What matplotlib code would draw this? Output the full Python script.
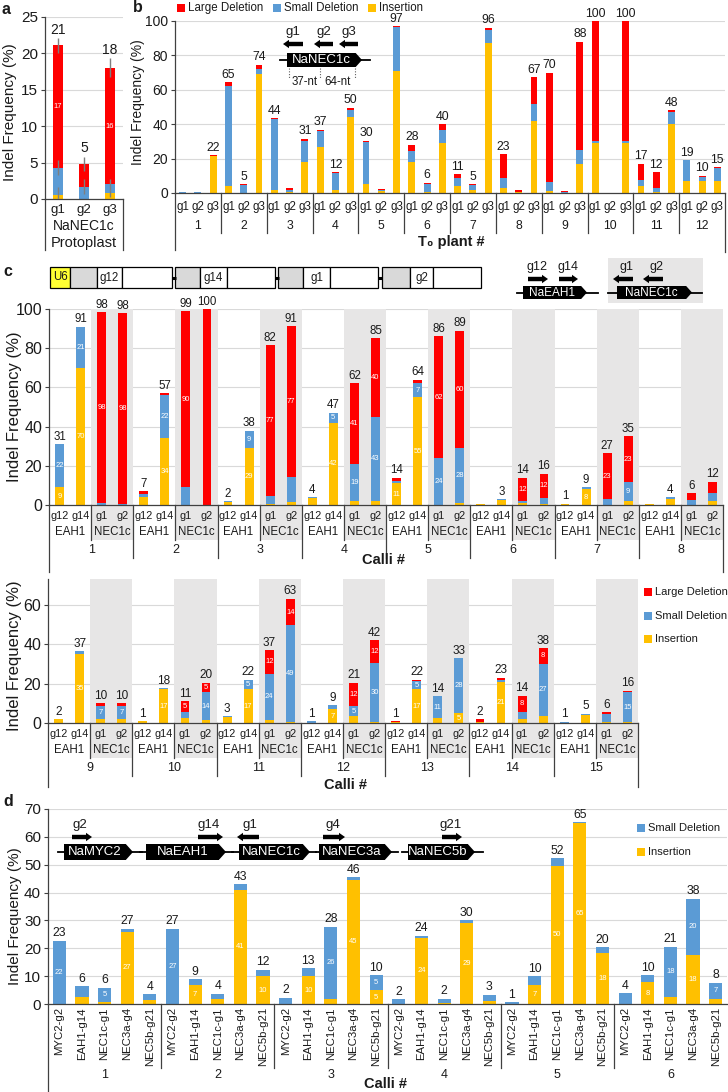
import matplotlib
matplotlib.use('Agg')
import matplotlib.pyplot as plt
import numpy as np
from matplotlib.patches import Polygon, Rectangle

W, H = 728, 1092
plt.rcParams['font.family'] = ['Liberation Sans', 'DejaVu Sans']

RED = '#ff0000'; BLUE = '#5b9bd5'; YEL = '#ffc000'
SHADE = '#e7e6e6'; GRID = '#d9d9d9'; AXC = '#404040'; TXT = '#1a1a1a'

# ---------------- panel a data ----------------
a_guides = ['g1', 'g2', 'g3']
a_ins = [0.5, 0.0, 0.8]
a_sml = [3.8, 1.7, 1.2]
a_lrg = [16.8, 3.1, 16.0]
a_err_ins = [1.2, 0.0, 0.5]
a_err_sml = [1.0, 1.0, 0.8]
a_err_lrg = [1.0, 1.0, 1.3]
a_top = ['21', '5', '18']
a_lrg_lbl = ['17', '', '16']

# ---------------- panel b data ----------------
b_guides = ['g1', 'g2', 'g3']
b_plants = [str(i) for i in range(1, 13)]
b_ins = [0.2, 0.2, 21.5, 4, 0, 69, 1.5, 0.5, 18, 27, 2, 44, 5.5, 1, 71, 18, 0.5, 29,
         4, 1.5, 87, 3, 0.3, 42, 1, 0.2, 17, 29, 0, 29, 4, 0.5, 40, 7, 7, 7]
b_sml = [0.1, 0.5, 0.3, 58, 4.5, 3, 41.5, 1.5, 12, 9, 9.5, 4.5, 24, 0.5, 25.5, 6.5, 4.5, 7.5,
         4.5, 3.3, 7.5, 5.5, 0.2, 9.5, 5.5, 0.3, 8, 1.5, 0, 1, 3.5, 2.5, 7, 12, 2.5, 7.5]
b_lrg = [0, 0, 0.2, 2.5, 0.5, 2.5, 0.5, 1, 1.5, 0.8, 0.5, 1.2, 0.8, 1, 0.5, 3.5, 1, 3.5,
         2.5, 0.2, 1.5, 14, 1.2, 16, 63.5, 0.5, 63, 69.5, 0, 70, 9.5, 9, 1, 0, 0.5, 0.5]
b_top = ['', '', '22', '65', '5', '74', '44', '', '31', '37', '12', '50', '30', '', '97',
         '28', '6', '40', '11', '5', '96', '23', '', '67', '70', '', '88', '100', '', '100',
         '17', '12', '48', '19', '10', '15']

# ---------------- panel c data ----------------
c_guides = ['g12', 'g14', 'g1', 'g2']
c_genes = ['EAH1', 'NEC1c']
c1_calli = [str(i) for i in range(1, 9)]
c2_calli = [str(i) for i in range(9, 16)]

c1_ins = [9, 70, 0, 0, 4.3, 34, 0, 0, 1.5, 29, 0.5, 1.4, 3.5, 42, 2, 2,
          11, 55, 0, 1, 0.5, 2.5, 1, 0.5, 0.3, 8, 0, 2, 0.3, 3, 0, 2]
c1_sml = [22, 21, 0.8, 0.3, 1.3, 22, 9, 0, 0.5, 9, 4, 12.7, 0.5, 5, 19, 43,
          1, 7, 24, 28, 0, 0.5, 1, 3, 0.3, 1, 3, 9.5, 0, 1, 2.7, 4.3]
c1_lrg = [0, 0, 97.5, 97.7, 1.5, 1, 90, 100, 0, 0, 77, 77, 0, 0, 41, 40,
          2, 2, 62, 60, 0, 0, 12, 12.5, 0, 0, 23.5, 23.5, 0, 0, 3.3, 5.5]
c1_top = ['31', '91', '98', '98', '7', '57', '99', '100', '2', '38', '82', '91',
          '4', '47', '62', '85', '14', '64', '86', '89', '', '3', '14', '16',
          '1', '9', '27', '35', '', '4', '6', '12']
c1_ins_lbl = ['9', '70', '', '', '', '34', '', '', '', '29', '', '', '', '42', '', '',
              '11', '55', '', '', '', '', '', '', '', '8', '', '', '', '', '', '']
c1_sml_lbl = ['22', '21', '', '', '', '22', '', '', '', '9', '', '', '', '5', '19', '43',
              '', '7', '24', '28', '', '', '', '', '', '', '', '9', '', '', '', '']
c1_lrg_lbl = ['', '', '98', '98', '', '', '90', '', '', '', '77', '77', '', '', '41', '40',
              '', '', '62', '60', '', '', '12', '12', '', '', '23', '23', '', '', '', '']

c2_ins = [2, 35, 2, 2, 1, 17, 2.5, 1.5, 3, 17, 1.5, 0.5, 0, 7, 3.5, 0.5,
          0.4, 17, 2.5, 5, 0.3, 21, 2, 3.5, 0.2, 4, 0.5, 0.5]
c2_sml = [0, 1.5, 6.5, 6.5, 0, 0.5, 3, 14, 0.3, 5, 23.5, 49, 0.8, 2, 5, 30,
          0, 4.5, 11, 28, 0, 1, 3.5, 26.5, 0.5, 0.8, 4.3, 15]
c2_lrg = [0, 0, 1.5, 1.5, 0, 0, 5.5, 5, 0, 0, 12, 13.5, 0, 0, 12, 11.5,
          0.6, 0.5, 0, 0, 1.5, 1, 8.3, 8, 0, 0, 0.8, 0.8]
c2_top = ['2', '37', '10', '10', '1', '18', '11', '20', '3', '22', '37', '63',
          '1', '9', '21', '42', '1', '22', '14', '33', '2', '23', '14', '38', '1', '5', '6', '16']
c2_ins_lbl = ['', '35', '', '', '', '17', '', '', '', '17', '', '', '', '7', '', '',
              '', '17', '', '5', '', '21', '', '', '', '', '', '']
c2_sml_lbl = ['', '', '7', '7', '', '', '', '14', '', '5', '24', '49', '', '', '5', '30',
              '', '5', '11', '28', '', '', '', '27', '', '', '', '15']
c2_lrg_lbl = ['', '', '', '', '', '', '5', '5', '', '', '12', '14', '', '', '12', '12',
              '', '', '', '', '', '', '8', '8', '', '', '', '']

# ---------------- panel d data ----------------
d_targets = ['MYC2-g2', 'EAH1-g14', 'NEC1c-g1', 'NEC3a-g4', 'NEC5b-g21']
d_calli = [str(i) for i in range(1, 7)]
d_ins = [0, 2.5, 0.8, 26, 1.5, 0, 7, 1.7, 41, 10, 0, 10, 1.8, 44.6, 5,
         0, 23.8, 0.5, 29, 1.2, 0, 7, 49.6, 64.8, 18.3, 0, 7.8, 2.6, 17.6, 1.8]
d_sml = [22.7, 4, 5, 1, 2, 27, 2, 2, 2, 2.3, 2.3, 2.8, 26, 1, 5.4,
         1.7, 0.7, 1.4, 1, 2.2, 0.6, 3, 2.8, 0.4, 2, 3.8, 2.6, 18, 20.2, 5.9]
d_top = ['23', '6', '6', '27', '4', '27', '9', '4', '43', '12', '2', '13', '28', '46', '10',
         '2', '24', '2', '30', '3', '1', '10', '52', '65', '20', '4', '10', '21', '38', '8']
d_ins_lbl = ['', '', '', '27', '', '', '7', '', '41', '10', '', '10', '', '45', '5',
             '', '24', '', '29', '', '', '7', '50', '65', '18', '', '8', '', '18', '']
d_sml_lbl = ['22', '', '5', '', '', '27', '', '', '', '', '', '', '26', '', '5',
             '', '', '', '', '', '', '', '', '', '', '', '', '18', '20', '7']

fig = plt.figure(figsize=(W / 100, H / 100), dpi=100)


def add_ax(l, t, r, b):
    ax = fig.add_axes([l / W, 1 - b / H, (r - l) / W, (b - t) / H])
    return ax, (b - t)


def style(ax, ymax, ystep, fs):
    ax.set_ylim(0, ymax)
    ax.set_yticks(np.arange(0, ymax + 0.01, ystep))
    ax.set_xticks([])
    for s in ['top', 'right']:
        ax.spines[s].set_visible(False)
    for s in ['left', 'bottom']:
        ax.spines[s].set_color(AXC)
        ax.spines[s].set_linewidth(0.9)
    ax.grid(axis='y', color=GRID, lw=0.8)
    ax.set_axisbelow(True)
    ax.tick_params(axis='y', labelsize=fs, length=3, width=0.8, color=AXC, pad=2, labelcolor=TXT)


def stack(ax, x, w, segs, colors, lbls_list, fs_in=5.5):
    bottom = np.zeros(len(x))
    for vals, col, lbls in zip(segs, colors, lbls_list):
        vals = np.asarray(vals, float)
        ax.bar(x, vals, w, bottom=bottom, color=col, lw=0, zorder=2)
        if lbls is not None:
            for xi, b, v, s in zip(x, bottom, vals, lbls):
                if s:
                    ax.text(xi, b + v / 2, s, ha='center', va='center', color='white',
                            fontsize=fs_in, zorder=3)
        bottom = bottom + vals
    return bottom


def top_labels(ax, x, tops, lbls, fs):
    for xi, t, s in zip(x, tops, lbls):
        if s:
            ax.annotate(s, (xi, t), xytext=(0, 1), textcoords='offset points',
                        ha='center', va='bottom', fontsize=fs, color=TXT, zorder=5)


def btext(ax, axh, x, px, s, **kw):
    ax.text(x, -px / axh, s, transform=ax.get_xaxis_transform(), ha='center', va='center',
            clip_on=False, color=TXT, **kw)


def bline(ax, axh, x, px0, px1):
    ax.plot([x, x], [-px0 / axh, -px1 / axh], transform=ax.get_xaxis_transform(),
            clip_on=False, color=AXC, lw=0.9)


def ylab(ax, fs, xfrac, yfrac):
    ax.set_ylabel('Indel Frequency (%)', fontsize=fs, va='center', color=TXT)
    ax.yaxis.set_label_coords(xfrac, yfrac)


# ================= panel a =================
axa, ha = add_ax(45, 17, 123, 199)
style(axa, 25, 5, 11)
axa.set_xlim(0, 3)
xa = np.arange(3) + 0.5
stack(axa, xa, 0.42, [a_ins, a_sml, a_lrg], [YEL, BLUE, RED], [None, None, a_lrg_lbl])
ci = np.array(a_ins, float)
cs = ci + np.array(a_sml)
cl = cs + np.array(a_lrg)
for cum, err in [(ci, a_err_ins), (cs, a_err_sml), (cl, a_err_lrg)]:
    axa.errorbar(xa, cum, yerr=err, fmt='none', ecolor='#7f7f7f', elinewidth=1.0, zorder=4)
top_labels(axa, xa, cl + np.array(a_err_lrg), a_top, 10)
for xi, g in zip(xa, a_guides):
    btext(axa, ha, xi, 11, g, fontsize=9.5)
btext(axa, ha, 1.5, 27, 'NaNEC1c', fontsize=10)
btext(axa, ha, 1.5, 44, 'Protoplast', fontsize=10.5)
bline(axa, ha, 0, 0, 51)
bline(axa, ha, 3, 0, 51)
ylab(axa, 11, (10 - 45) / 78, 0.48)

# ================= panel b =================
axb, hb = add_ax(175, 21, 725, 193)
style(axb, 100, 20, 10)
axb.set_xlim(0, 36)
xb = np.arange(36) + 0.5
tb = stack(axb, xb, 0.45, [b_ins, b_sml, b_lrg], [YEL, BLUE, RED], [None, None, None])
top_labels(axb, xb, tb, b_top, 8.8)
for i, p in enumerate(b_plants):
    for j, g in enumerate(b_guides):
        btext(axb, hb, 3 * i + j + 0.5, 14, g, fontsize=8.3)
    btext(axb, hb, 3 * i + 1.5, 33, p, fontsize=8.8)
    if i > 0:
        bline(axb, hb, 3 * i, 0, 40)
bline(axb, hb, 0, 0, 57)
bline(axb, hb, 36, 0, 59)
ylab(axb, 10, (138 - 175) / 550, 0.53)

# ================= panel c =================
def panel_c(l, t, r, b, ymax, ins, sml, lrg, tops, il, sl, ll, calli, fs_top, ext):
    ax, h = add_ax(l, t, r, b)
    style(ax, ymax, 20, 11.5)
    n = len(calli)
    ax.set_xlim(0, 4 * n)
    x = np.arange(4 * n) + 0.5
    for k in range(n):
        ax.add_patch(Rectangle((4 * k + 2, -35 / h), 2, 1 + 35 / h, transform=ax.get_xaxis_transform(),
                               fc=SHADE, ec='none', lw=0, zorder=0.6, clip_on=False))
    tt = stack(ax, x, 0.42, [ins, sml, lrg], [YEL, BLUE, RED], [il, sl, ll])
    top_labels(ax, x, tt, tops, fs_top)
    for k, c in enumerate(calli):
        for j, g in enumerate(c_guides):
            btext(ax, h, 4 * k + j + 0.5, 11, g, fontsize=7.8)
        btext(ax, h, 4 * k + 1, 27, c_genes[0], fontsize=8.3)
        btext(ax, h, 4 * k + 3, 27, c_genes[1], fontsize=8.3)
        btext(ax, h, 4 * k + 2, 45, c, fontsize=9)
        bline(ax, h, 4 * k + 2, 0, 35)
        if k > 0:
            bline(ax, h, 4 * k, 0, 53)
    bline(ax, h, 0, 0, ext)
    bline(ax, h, 4 * n, 0, ext)
    return ax, h

axc1, hc1 = panel_c(49, 309, 723, 505, 100, c1_ins, c1_sml, c1_lrg, c1_top,
                    c1_ins_lbl, c1_sml_lbl, c1_lrg_lbl, c1_calli, 8.3, 67)
ylab(axc1, 12, (15 - 49) / 674, 0.5)
axc2, hc2 = panel_c(48, 579, 638, 723, 73, c2_ins, c2_sml, c2_lrg, c2_top,
                    c2_ins_lbl, c2_sml_lbl, c2_lrg_lbl, c2_calli, 8.5, 64)
ylab(axc2, 12, (15 - 48) / 590, 0.47)

# ================= panel d =================
axd, hd = add_ax(48, 809, 727, 1004)
style(axd, 70, 10, 11)
axd.set_xlim(0, 30)
xd = np.arange(30) + 0.5
td = stack(axd, xd, 0.58, [d_ins, d_sml], [YEL, BLUE], [d_ins_lbl, d_sml_lbl])
top_labels(axd, xd, td, d_top, 8.8)
for k, c in enumerate(d_calli):
    for j, g in enumerate(d_targets):
        axd.text(5 * k + j + 0.5, -3 / hd, g, transform=axd.get_xaxis_transform(), rotation=90,
                 ha='center', va='top', fontsize=8.2, color=TXT, clip_on=False)
    btext(axd, hd, 5 * k + 2.5, 71, c, fontsize=9)
    if k > 0:
        bline(axd, hd, 5 * k, 0, 64)
bline(axd, hd, 0, 0, 88)
ylab(axd, 11, (15 - 48) / 679, 0.45)

# ================= overlay: legends, diagrams, panel letters =================
ov = fig.add_axes([0, 0, 1, 1])
ov.set_xlim(0, W)
ov.set_ylim(H, 0)
ov.axis('off')
ov.patch.set_alpha(0)


def ovtext(x, y, s, **kw):
    kw.setdefault('color', TXT)
    ov.text(x, y, s, ha=kw.pop('ha', 'center'), va=kw.pop('va', 'center'), **kw)


def gene(x0, x1, y0, y1, name, fs, lx0, lx1):
    ym = (y0 + y1) / 2
    ov.plot([lx0, lx1], [ym, ym], color='black', lw=1.3, zorder=1)
    p = (y1 - y0) * 0.45
    ov.add_patch(Polygon([(x0, y0), (x1 - p, y0), (x1, ym), (x1 - p, y1), (x0, y1)],
                         closed=True, fc='black', ec='none', zorder=2))
    ov.text((x0 + x1 - p) / 2, ym, name, color='white', ha='center', va='center',
            fontsize=fs, zorder=3)


def arrow(x0, x1, y, right=True, sh=2.2, hh=4.2, hl=6):
    if right:
        pts = [(x0, y - sh), (x1 - hl, y - sh), (x1 - hl, y - hh), (x1, y),
               (x1 - hl, y + hh), (x1 - hl, y + sh), (x0, y + sh)]
    else:
        pts = [(x1, y - sh), (x0 + hl, y - sh), (x0 + hl, y - hh), (x0, y),
               (x0 + hl, y + hh), (x0 + hl, y + sh), (x1, y + sh)]
    ov.add_patch(Polygon(pts, closed=True, fc='black', ec='none', zorder=3))


def legend_item(x, y, col, s, fs=8.3):
    ov.add_patch(Rectangle((x, y - 4), 8, 8, fc=col, ec='none'))
    ov.text(x + 11, y, s, ha='left', va='center', fontsize=fs, color=TXT)


# panel letters
for lx, ly, s in [(2, 10, 'a'), (133, 8, 'b'), (3, 271, 'c'), (3, 802, 'd')]:
    ovtext(lx, ly, s, fontsize=11.5, fontweight='bold', ha='left')

# legend b
legend_item(177, 8, RED, 'Large Deletion')
legend_item(273, 8, BLUE, 'Small Deletion')
legend_item(368, 8, YEL, 'Insertion')

# diagram b
gene(287, 362, 53, 67, 'NaNEC1c', 9.5, 280, 370)
for (x0, x1, lx, s) in [(283, 303, 293, 'g1'), (314, 333, 324, 'g2'), (339, 358, 349, 'g3')]:
    arrow(x0, x1, 44, right=False)
    ovtext(lx, 32, s, fontsize=9.5)
for xx in [289, 320, 355]:
    ov.plot([xx, xx], [68, 78], color='#606060', lw=0.8, ls=(0, (1, 1.5)))
ovtext(305, 82, '37-nt', fontsize=8.3)
ovtext(338, 82, '64-nt', fontsize=8.3)

# x titles
ovtext(451, 242, 'T\u2080 plant #', fontsize=10.5, fontweight='bold')
ovtext(383, 560, 'Calli #', fontsize=10.5, fontweight='bold')
ovtext(345, 785, 'Calli #', fontsize=10.5, fontweight='bold')
ovtext(386, 1084, 'Calli #', fontsize=10.5, fontweight='bold')

# construct diagram c
by0, by1 = 267, 288
ov.add_patch(Rectangle((50, by0), 20, by1 - by0, fc='#ffff33', ec='black', lw=0.9))
ovtext(60, (by0 + by1) / 2, 'U6', fontsize=8.3)
units = [(70, 97, 122, 172, 'g12'), (175, 200, 227, 275, 'g14'),
         (278, 303, 330, 378, 'g1'), (382, 410, 433, 481, 'g2')]
for (g0, g1, g2, g3, s) in units:
    ov.add_patch(Rectangle((g0, by0), g1 - g0, by1 - by0, fc='#d9d9d9', ec='black', lw=0.9))
    ov.add_patch(Rectangle((g1, by0), g2 - g1, by1 - by0, fc='white', ec='black', lw=0.9))
    ov.add_patch(Rectangle((g2, by0), g3 - g2, by1 - by0, fc='white', ec='black', lw=0.9))
    ovtext((g1 + g2) / 2, (by0 + by1) / 2, s, fontsize=8.3)
for xx in [172, 275, 378]:
    ov.plot([xx, xx + 4], [(by0 + by1) / 2] * 2, color='black', lw=2.2, solid_capstyle='butt')

ov.add_patch(Rectangle((608, 258), 95, 45, fc=SHADE, ec='none', zorder=0))
gene(523, 587, 286, 299, 'NaEAH1', 8.5, 517, 598)
gene(617, 692, 286, 299, 'NaNEC1c', 8.5, 608, 702)
arrow(528, 548, 279, right=True)
arrow(559, 578, 279, right=True)
arrow(613, 633, 279, right=False)
arrow(643, 663, 279, right=False)
ovtext(537, 267, 'g12', fontsize=9)
ovtext(568, 267, 'g14', fontsize=9)
ovtext(627, 267, 'g1', fontsize=9)
ovtext(657, 267, 'g2', fontsize=9)

# legend c bottom
legend_item(644, 592, RED, 'Large Deletion', 8)
legend_item(644, 616, BLUE, 'Small Deletion', 8)
legend_item(644, 639, YEL, 'Insertion', 8)

# diagram d
gy0, gy1 = 844, 860
gene(64, 133, gy0, gy1, 'NaMYC2', 9.5, 58, 142)
gene(146, 226, gy0, gy1, 'NaEAH1', 9.5, 140, 233)
gene(239, 310, gy0, gy1, 'NaNEC1c', 9.5, 232, 316)
gene(319, 392, gy0, gy1, 'NaNEC3a', 9.5, 316, 398)
gene(408, 475, gy0, gy1, 'NaNEC5b', 9.5, 402, 483)
for (x0, x1, lx, s, r) in [(72, 92, 80, 'g2', True), (198, 223, 209, 'g14', True),
                           (237, 259, 250, 'g1', False), (323, 345, 333, 'g4', True),
                           (442, 462, 451, 'g21', True)]:
    arrow(x0, x1, 837, right=r)
    ovtext(lx, 825, s, fontsize=9.5)

# legend d
legend_item(637, 828, BLUE, 'Small Deletion', 8)
legend_item(637, 852, YEL, 'Insertion', 8)

fig.savefig('out.png', dpi=100)
